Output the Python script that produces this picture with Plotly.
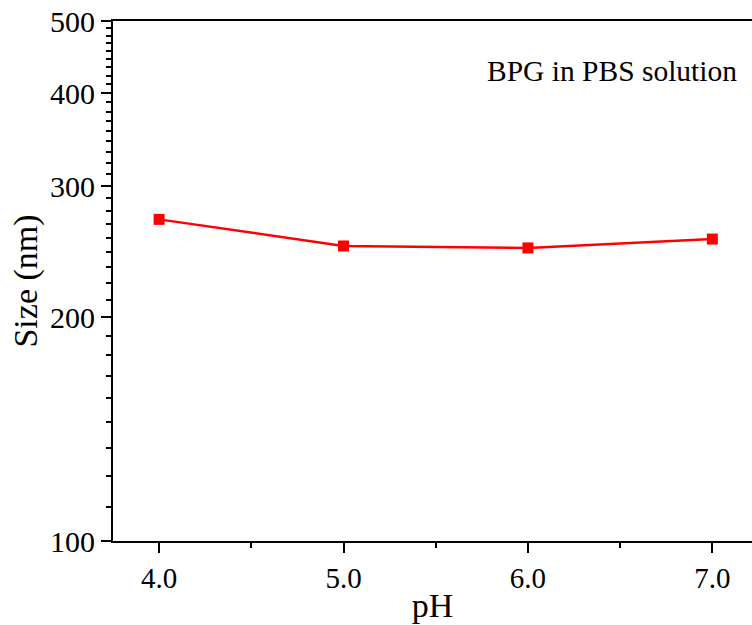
import plotly.graph_objects as go

ph = [4.0, 5.0, 6.0, 7.0]
size_nm = [270.6, 249.2, 247.7, 254.6]
size_err = [2.0, 0.0, 0.0, 0.0]

x_ticks = [4.0, 5.0, 6.0, 7.0]
x_ticktext = ["4.0", "5.0", "6.0", "7.0"]
y_ticks = [100, 200, 300, 400, 500]
y_ticktext = ["100", "200", "300", "400", "500"]
y_minor = [a + k * 100 / 9 for a in y_ticks[:-1] for k in range(1, 9)]

font_family = "Liberation Serif, Times New Roman, serif"

fig = go.Figure()
fig.add_trace(go.Scatter(
    x=ph, y=size_nm,
    mode="lines+markers",
    line=dict(color="#FF0000", width=2.5),
    marker=dict(symbol="square", size=11, color="#FF0000"),
    error_y=dict(type="data", array=size_err, color="#FF0000", thickness=1, width=5),
    showlegend=False,
))

fig.add_annotation(
    x=0.98, y=0.903, xref="paper", yref="paper",
    xanchor="right", yanchor="middle",
    text="BPG in PBS solution", showarrow=False,
    font=dict(family=font_family, size=29.5, color="black"),
)

fig.update_layout(
    width=752, height=625,
    margin=dict(l=113, r=0, t=21, b=84),
    paper_bgcolor="white", plot_bgcolor="white",
    font=dict(family=font_family, color="black"),
)

fig.update_xaxes(
    range=[3.75, 7.215],
    tickmode="array", tickvals=x_ticks, ticktext=x_ticktext,
    ticks="outside", ticklen=10, tickwidth=2, tickcolor="black",
    minor=dict(dtick=0.5, tick0=3.5, ticks="outside", ticklen=5, tickwidth=2, tickcolor="black"),
    showline=True, linecolor="black", linewidth=2, mirror=True,
    showgrid=False, zeroline=False,
    tickfont=dict(family=font_family, size=29, color="black"),
    title=dict(text="pH", font=dict(family=font_family, size=34, color="black"), standoff=0),
)

fig.update_yaxes(
    type="log",
    range=[2, 2.69897],
    tickmode="array", tickvals=y_ticks, ticktext=y_ticktext,
    ticks="outside", ticklen=10, tickwidth=2, tickcolor="black",
    minor=dict(tickmode="array", tickvals=y_minor, ticks="outside", ticklen=5, tickwidth=2, tickcolor="black"),
    showline=True, linecolor="black", linewidth=2, mirror=False,
    showgrid=False, zeroline=False,
    tickfont=dict(family=font_family, size=30, color="black"),
    title=dict(text="Size (nm)", font=dict(family=font_family, size=34, color="black"), standoff=2),
)

fig.write_html("out.html")
